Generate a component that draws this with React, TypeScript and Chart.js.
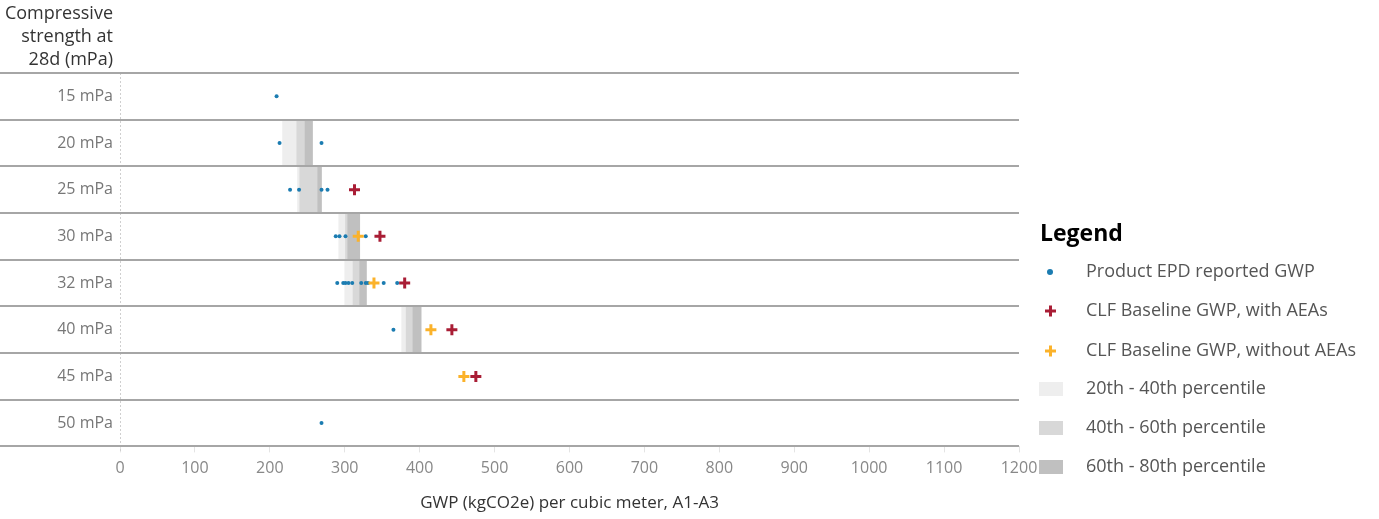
import React, { useEffect, useRef } from 'react';
import { Chart, registerables } from 'chart.js';

Chart.register(...registerables);

const FONT = '"Open Sans", "Noto Sans", sans-serif';

const categories = ['15 mPa', '20 mPa', '25 mPa', '30 mPa', '32 mPa', '40 mPa', '45 mPa', '50 mPa'];

// Product EPD reported GWP values per strength class
const epd15 = [209];
const epd20 = [213, 269];
const epd25 = [227, 239, 269, 277];
const epd30 = [288, 293, 301, 328];
const epd32 = [290, 298, 301, 305, 310, 322, 328, 331, 352, 370];
const epd40 = [365];
const epd45: number[] = [];
const epd50 = [269];
const epdValues = [epd15, epd20, epd25, epd30, epd32, epd40, epd45, epd50];

// CLF baselines
const clfWithAEAs = [null, null, 313, 347, 380, 443, 475, null];
const clfWithoutAEAs = [null, null, null, 318, 339, 415, 459, null];

// Percentile bands [low, high]
const p20to40 = [null, [217, 236], [237, 240], [292, 301], [300, 311], [376, 382], null, null];
const p40to60 = [null, [236, 247], [240, 264], [301, 304], [311, 320], [382, 391], null, null];
const p60to80 = [null, [247, 257], [264, 269], [304, 320], [320, 329], [391, 402], null, null];

const xTicksMin = 0;
const xTicksMax = 1200;
const xTickStep = 100;

const headerLines = ['Compressive', 'strength at', '28d (mPa)'];
const legendTitle = 'Legend';
const legendLabels = [
  'Product EPD reported GWP',
  'CLF Baseline GWP, with AEAs',
  'CLF Baseline GWP, without AEAs',
  '20th - 40th percentile',
  '40th - 60th percentile',
  '60th - 80th percentile',
];

const BLUE = '#1b7cb1';
const RED = '#a91d35';
const YELLOW = '#fbb22a';
const BAND1 = '#eeeeee';
const BAND2 = '#d8d8d8';
const BAND3 = '#c0c0c0';

const decorPlugin = {
  id: 'decor',
  beforeDatasetsDraw(chart: any) {
    const { ctx, chartArea, scales } = chart;
    const x0 = scales.x.getPixelForValue(0);
    ctx.save();
    ctx.strokeStyle = '#cfcfcf';
    ctx.lineWidth = 1;
    ctx.setLineDash([2, 2]);
    ctx.beginPath();
    ctx.moveTo(Math.round(x0) + 0.5, chartArea.top);
    ctx.lineTo(Math.round(x0) + 0.5, chartArea.bottom + 6);
    ctx.stroke();
    ctx.restore();
  },
  afterDatasetsDraw(chart: any) {
    const { ctx, chartArea, scales } = chart;
    const ys = scales.y;
    ctx.save();
    ctx.strokeStyle = '#a6a6a6';
    ctx.lineWidth = 2;
    for (let i = 0; i <= categories.length; i++) {
      const y = Math.round(ys.getPixelForValue(i - 0.5));
      ctx.beginPath();
      ctx.moveTo(0, y);
      ctx.lineTo(chartArea.right, y);
      ctx.stroke();
    }
    ctx.restore();
  },
  afterDraw(chart: any) {
    const { ctx, chartArea } = chart;
    ctx.save();
    // header
    ctx.fillStyle = '#333';
    ctx.font = `18px ${FONT}`;
    ctx.textAlign = 'right';
    ctx.textBaseline = 'middle';
    headerLines.forEach((t, i) => ctx.fillText(t, chartArea.left - 7, 14 + i * 23));

    // legend
    const lx = 1040;
    ctx.textAlign = 'left';
    ctx.fillStyle = '#000';
    ctx.font = `bold 23px ${FONT}`;
    ctx.fillText(legendTitle, lx, 234);
    const ys = [272, 311, 351, 389, 428, 467];
    ctx.font = `18px ${FONT}`;
    legendLabels.forEach((t, i) => {
      const y = ys[i];
      if (i === 0) {
        ctx.fillStyle = BLUE;
        ctx.beginPath();
        ctx.arc(1050, y, 3, 0, Math.PI * 2);
        ctx.fill();
      } else if (i === 1 || i === 2) {
        ctx.strokeStyle = i === 1 ? RED : YELLOW;
        ctx.lineWidth = 3;
        ctx.beginPath();
        ctx.moveTo(1045, y);
        ctx.lineTo(1056, y);
        ctx.moveTo(1050.5, y - 5.5);
        ctx.lineTo(1050.5, y + 5.5);
        ctx.stroke();
      } else {
        ctx.fillStyle = [BAND1, BAND2, BAND3][i - 3];
        ctx.fillRect(1039, y - 7, 24, 14);
      }
      ctx.fillStyle = '#555';
      ctx.fillText(t, 1086, y);
    });
    ctx.restore();
  },
};

export default function App() {
  const canvasRef = useRef<HTMLCanvasElement | null>(null);

  useEffect(() => {
    document.body.style.margin = '0';
    const canvas = canvasRef.current;
    if (!canvas) return;
    Chart.defaults.font.family = FONT;

    const epdData = categories.flatMap((c, i) => epdValues[i].map((v) => ({ x: v, y: c })));
    const withData = categories
      .map((c, i) => (clfWithAEAs[i] == null ? null : { x: clfWithAEAs[i] as number, y: c }))
      .filter(Boolean);
    const withoutData = categories
      .map((c, i) => (clfWithoutAEAs[i] == null ? null : { x: clfWithoutAEAs[i] as number, y: c }))
      .filter(Boolean);

    const barCommon = {
      type: 'bar' as const,
      barPercentage: 1,
      categoryPercentage: 1,
      grouped: false,
      borderWidth: 0,
      order: 5,
    };

    const chart = new Chart(canvas, {
      type: 'bar',
      data: {
        labels: categories,
        datasets: [
          { ...barCommon, label: legendLabels[3], data: p20to40 as any, backgroundColor: BAND1, order: 7 },
          { ...barCommon, label: legendLabels[4], data: p40to60 as any, backgroundColor: BAND2, order: 6 },
          { ...barCommon, label: legendLabels[5], data: p60to80 as any, backgroundColor: BAND3, order: 5 },
          {
            type: 'scatter',
            label: legendLabels[0],
            data: epdData as any,
            pointStyle: 'circle',
            pointRadius: 2,
            pointBackgroundColor: BLUE,
            pointBorderWidth: 0,
            order: 3,
          } as any,
          {
            type: 'scatter',
            label: legendLabels[2],
            data: withoutData as any,
            pointStyle: 'cross',
            pointRadius: 5.5,
            pointBorderColor: YELLOW,
            pointBorderWidth: 3,
            order: 2,
          } as any,
          {
            type: 'scatter',
            label: legendLabels[1],
            data: withData as any,
            pointStyle: 'cross',
            pointRadius: 5.5,
            pointBorderColor: RED,
            pointBorderWidth: 3,
            order: 1,
          } as any,
        ],
      },
      options: {
        indexAxis: 'y',
        animation: false,
        responsive: true,
        maintainAspectRatio: false,
        layout: { padding: { top: 73, right: 360, bottom: 6, left: 0 } },
        plugins: {
          legend: { display: false },
          tooltip: { enabled: false },
        },
        scales: {
          x: {
            type: 'linear',
            min: xTicksMin,
            max: xTicksMax,
            ticks: {
              stepSize: xTickStep,
              color: '#888',
              font: { size: 16 },
              padding: 6,
              callback: (v: any) => String(v),
            },
            grid: { drawOnChartArea: false, drawTicks: true, tickLength: 6, color: '#e4e4e4' },
            border: { display: false },
            title: {
              display: true,
              text: 'GWP (kgCO2e) per cubic meter, A1-A3',
              color: '#333',
              font: { size: 17 },
              padding: { top: 9, bottom: 0 },
            },
          },
          y: {
            type: 'category',
            labels: categories,
            offset: true,
            grid: { display: false, drawTicks: false },
            border: { display: false },
            ticks: { color: '#777', font: { size: 16 }, padding: 7 },
            afterFit: (s: any) => {
              s.width = 120;
            },
          },
        },
      },
      plugins: [decorPlugin],
    });
    return () => chart.destroy();
  }, []);

  return (
    <div style={{ position: 'absolute', left: 0, top: 0, width: 1379, height: 519 }}>
      <canvas ref={canvasRef} />
    </div>
  );
}
